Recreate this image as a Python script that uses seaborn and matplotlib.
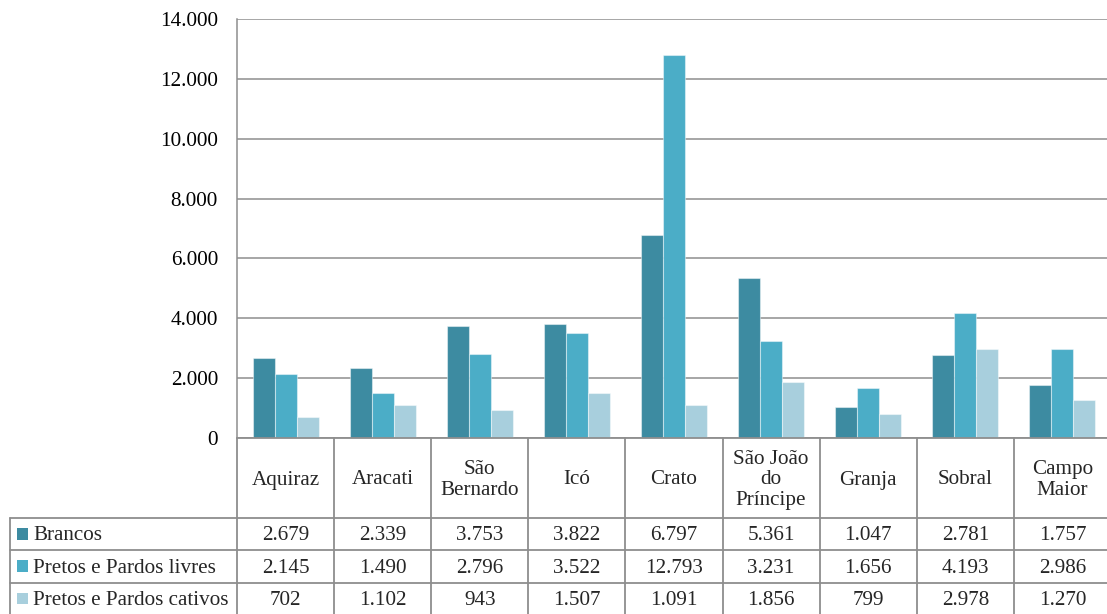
import numpy as np
import pandas as pd
import matplotlib
matplotlib.use("Agg")
import matplotlib.pyplot as plt
import matplotlib.transforms as mtransforms
from matplotlib.lines import Line2D
from matplotlib.patches import Rectangle
from matplotlib.ticker import FuncFormatter, MultipleLocator
import seaborn as sns

# Population by locality and group
cidades = ["Aquiraz", "Aracati", "São\nBernardo", "Icó", "Crato",
           "São João\ndo\nPríncipe", "Granja", "Sobral", "Campo\nMaior"]
grupos = ["Brancos", "Pretos e Pardos livres", "Pretos e Pardos cativos"]
brancos = [2679, 2339, 3753, 3822, 6797, 5361, 1047, 2781, 1757]
livres = [2145, 1490, 2796, 3522, 12793, 3231, 1656, 4193, 2986]
cativos = [702, 1102, 943, 1507, 1091, 1856, 799, 2978, 1270]
cores = ["#3D8BA1", "#4BADC7", "#A8CFDD"]

serie = {grupos[0]: brancos, grupos[1]: livres, grupos[2]: cativos}
df = pd.DataFrame(
    [(c, g, v) for g in grupos for c, v in zip(cidades, serie[g])],
    columns=["cidade", "grupo", "valor"],
)

sns.set_theme(style="white")
plt.rcParams["font.family"] = ["Liberation Serif", "DejaVu Serif"]
FS = 15.2
GRID = "#8E8E8E"

W, H = 1107, 614
fig = plt.figure(figsize=(W / 100, H / 100), dpi=100)

def fy(py):
    return 1 - py / H

x0, x1 = 237, 1111
y_top, y_zero = 19, 438
ax = fig.add_axes([x0 / W, fy(y_zero), (x1 - x0) / W, (y_zero - y_top) / H])

sns.barplot(data=df, x="cidade", y="valor", hue="grupo", order=cidades,
            hue_order=grupos, palette=cores, width=0.68, gap=0,
            edgecolor=(1, 1, 1, 0.45), linewidth=0.8, ax=ax, legend=False,
            errorbar=None, saturation=1)

ax.set_xlim(-0.5, len(cidades) - 0.5)
ax.set_ylim(0, 14000)
ax.yaxis.set_major_locator(MultipleLocator(2000))
ax.yaxis.set_major_formatter(
    FuncFormatter(lambda v, p: f"{int(v):,}".replace(",", "."))
)
ax.tick_params(axis="y", length=0, pad=13.7, labelsize=FS, colors="black")
ax.set_xticks([])
ax.set_xlabel("")
ax.set_ylabel("")
ax.grid(axis="y", color=GRID, linewidth=1.1)
ax.set_axisbelow(True)
for s in ["top", "right", "bottom"]:
    ax.spines[s].set_visible(False)
ax.spines["left"].set_color(GRID)
ax.spines["left"].set_linewidth(1.1)

# Data table below the axis
tr = mtransforms.blended_transform_factory(ax.transData, fig.transFigure)
rows_y = [438, 518, 550, 582.5, 615]
left_px = 10
TXT_DY = 2  # nudge text slightly down inside cells

def hline(y, xa, xb, transform):
    fig.add_artist(Line2D([xa, xb], [fy(y), fy(y)], transform=transform,
                          color=GRID, linewidth=1.3, clip_on=False))

def vline(x, ya, yb, transform):
    fig.add_artist(Line2D([x, x], [fy(ya), fy(yb)], transform=transform,
                          color=GRID, linewidth=1.3, clip_on=False))

n = len(cidades)
# horizontal rules across the city columns
hline(rows_y[0], -0.5, n - 0.5, tr)
for y in rows_y[1:]:
    hline(y, left_px / W, x1 / W, fig.transFigure)
# vertical rules between cities
for i in range(n + 1):
    vline(i - 0.5, rows_y[0], rows_y[-1], tr)
vline(left_px / W, rows_y[1], rows_y[-1], fig.transFigure)

# header: city names
for i, c in enumerate(cidades):
    fig.text(i, fy((rows_y[0] + rows_y[1]) / 2 + TXT_DY), c, transform=tr,
             ha="center", va="center", fontsize=FS, linespacing=1.12)

# rows: legend key, group name and values
for r, g in enumerate(grupos):
    yc = (rows_y[r + 1] + rows_y[r + 2]) / 2
    fig.add_artist(Rectangle((17 / W, fy(yc + 5.5)), 10.5 / W, 11.5 / H,
                             transform=fig.transFigure, facecolor=cores[r],
                             edgecolor="none"))
    fig.text(33 / W, fy(yc + TXT_DY), g, ha="left", va="center", fontsize=FS)
    for i, v in enumerate(serie[g]):
        fig.text(i, fy(yc + TXT_DY), f"{v:,}".replace(",", "."), transform=tr,
                 ha="center", va="center", fontsize=FS)

fig.savefig("out.png", dpi=100)
